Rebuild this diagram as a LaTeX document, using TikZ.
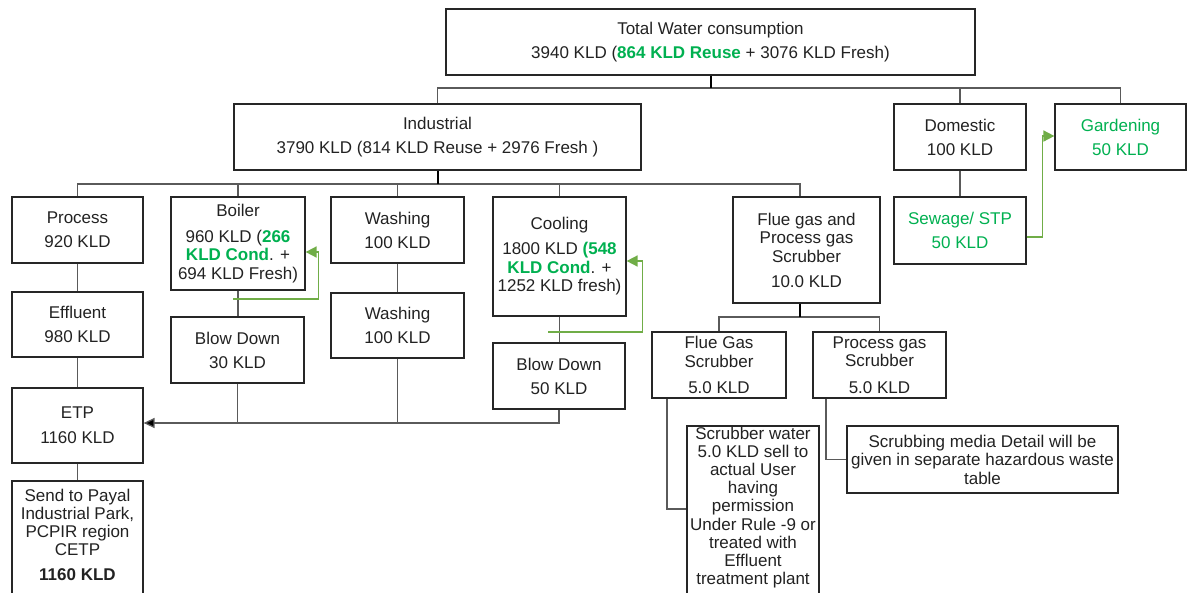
\documentclass[tikz,border=0pt]{standalone}
\usepackage{fontspec}
\setmainfont{Liberation Sans}
\usetikzlibrary{arrows.meta}
\definecolor{gtext}{HTML}{00B050}
\definecolor{gline}{HTML}{70AD47}
\definecolor{wirec}{HTML}{5A5A5A}
\definecolor{ink}{HTML}{222222}
\newcommand{\gb}[1]{\textcolor{gtext}{\bfseries #1}}
\newcommand{\gt}[1]{\textcolor{gtext}{#1}}

\begin{document}
\begin{tikzpicture}[x=1pt,y=-1pt,
  box/.style={draw=black!85, line width=1.2pt, rectangle, align=center,
    inner sep=0pt, text=ink, font=\fontsize{17}{18.5}\selectfont},
  txt/.style={align=center, inner sep=0pt, text=ink, font=\fontsize{17}{18.2}\selectfont},
  wire/.style={draw=wirec, line width=1.3pt},
  stem/.style={draw=black, line width=2pt},
  garrow/.style={draw=gline, line width=1.6pt, -{Triangle[length=11pt,width=11pt]}},
  karrow/.style={-{Triangle[length=11pt,width=10pt,fill=black]}}
]
\useasboundingbox (0,0) rectangle (1194,592);

% top level
\node[box, minimum width=529pt, minimum height=66pt] (total) at (710.5,42)
  {Total Water consumption\\[5.5pt]3940 KLD (\gb{864 KLD Reuse} + 3076 KLD Fresh)};
\node[box, minimum width=407pt, minimum height=66pt] (ind) at (437.5,137)
  {Industrial\\[5.5pt]3790 KLD (814 KLD Reuse + 2976 Fresh )};
\node[box, minimum width=132pt, minimum height=66pt] (dom) at (960,137)
  {Domestic\\[5.5pt]100 KLD};
\node[box, minimum width=131pt, minimum height=66pt] (gard) at (1120.5,137)
  {\gt{Gardening}\\[5.5pt]\gt{50 KLD}};
\node[box, minimum width=132pt, minimum height=67pt] (sew) at (960,230.5)
  {\gt{Sewage/ STP}\\[5.5pt]\gt{50 KLD}};

% industrial branches
\node[box, minimum width=131pt, minimum height=66pt] (proc) at (77.5,230)
  {Process\\[5.5pt]920 KLD};
\node[box, minimum width=131pt, minimum height=65pt] (eff) at (77.5,324.5)
  {Effluent\\[5.5pt]980 KLD};
\node[box, minimum width=131pt, minimum height=75pt] (etp) at (77.5,425.5)
  {ETP\\[6.5pt]1160 KLD};
\node[box, minimum width=131pt, minimum height=119pt] (payal) at (77.5,540.5) {};
\node[txt] (payaltxt) at (77.5,535)
  {Send to Payal\\Industrial Park,\\PCPIR region\\CETP\\[7pt]\bfseries 1160 KLD};

\node[box, minimum width=134pt, minimum height=93pt] (boiler) at (238,243.5)
  {Boiler\\[7pt]960 KLD (\gb{266}\\\gb{KLD Cond}. +\\694 KLD Fresh)};
\node[box, minimum width=133pt, minimum height=66pt] (bd30) at (237.5,350)
  {Blow Down\\[5.5pt]30 KLD};
\node[box, minimum width=133pt, minimum height=66pt] (wash1) at (397.5,230)
  {Washing\\[5.5pt]100 KLD};
\node[box, minimum width=133pt, minimum height=65pt] (wash2) at (397.5,325.5)
  {Washing\\[5.5pt]100 KLD};
\node[box, minimum width=133pt, minimum height=119pt] (cool) at (559.5,256.5)
  {Cooling\\[6.5pt]1800 KLD \gb{(548}\\\gb{KLD Cond}. +\\1252 KLD fresh)};
\node[box, minimum width=132pt, minimum height=66pt] (bd50) at (559,376)
  {Blow Down\\[5.5pt]50 KLD};

% scrubbers
\node[box, minimum width=147pt, minimum height=106pt] (flue) at (806.5,250)
  {Flue gas and\\Process gas\\Scrubber\\[6.5pt]10.0 KLD};
\node[box, minimum width=134pt, minimum height=66pt] (fgs) at (719,365)
  {Flue Gas\\Scrubber\\[8pt]5.0 KLD};
\node[box, minimum width=133pt, minimum height=66pt] (pgs) at (879.5,365)
  {Process gas\\Scrubber\\[8pt]5.0 KLD};
\node[box, minimum width=132pt, minimum height=174pt] (sw) at (753,513) {};
\node[txt] (swtxt) at (753,507.5)
  {Scrubber water\\5.0 KLD sell to\\actual User\\having\\permission\\Under Rule -9 or\\treated with\\Effluent\\treatment plant};
\node[box, minimum width=271pt, minimum height=67pt] (smd) at (982.5,459.5)
  {Scrubbing media Detail will be\\given in separate hazardous waste\\table};

% bus levels
\coordinate (topbus) at (0,88);
\coordinate (indbus) at (0,184);
\coordinate (flbus) at (0,317);
\coordinate (etpbus) at (0,423);
\coordinate (fluetop) at ([xshift=-6.5pt]flue.north);
\coordinate (fluebot) at ([xshift=-6.5pt]flue.south);
\coordinate (fgsout) at ([xshift=-52pt]fgs.south);
\coordinate (pgsout) at ([xshift=-53.5pt]pgs.south);
\coordinate (swin) at (0,509);

% tree connectors
\draw[wire] (ind.north) -- (ind.north |- topbus) -- (gard.north |- topbus) -- (gard.north);
\draw[wire] (dom.north) -- (dom.north |- topbus);
\draw[stem] (total.south) -- (total.south |- topbus);
\draw[wire] (proc.north) -- (proc.north |- indbus) -- (fluetop |- indbus) -- (fluetop);
\draw[wire] (boiler.north) -- (boiler.north |- indbus);
\draw[wire] (wash1.north) -- (wash1.north |- indbus);
\draw[wire] (cool.north) -- (cool.north |- indbus);
\draw[stem] (ind.south) -- (ind.south |- indbus);
\draw[wire] (dom.south) -- (sew.north);

\draw[wire] (proc.south) -- (eff.north);
\draw[wire] (eff.south) -- (etp.north);
\draw[wire] (etp.south) -- (payal.north);
\draw[wire] (boiler.south) -- (boiler.south |- bd30.north);
\draw[wire] (wash1.south) -- (wash1.south |- wash2.north);
\draw[wire] (cool.south) -- (cool.south |- bd50.north);

\draw[wire] (bd30.south) -- (bd30.south |- etpbus);
\draw[wire] (wash2.south) -- (wash2.south |- etpbus);
\draw[wire, karrow] (bd50.south) -- (bd50.south |- etpbus) -- (etp.east |- etpbus);

\draw[wire] (fgs.north) -- (fgs.north |- flbus) -- (pgs.north |- flbus) -- (pgs.north);
\draw[stem] (fluebot) -- (fluebot |- flbus);
\draw[wire] (fgsout) -- (fgsout |- swin) -- (sw.west |- swin);
\draw[wire] (pgsout) |- (smd.west);

% reuse loops
\coordinate (bfeed) at (233,299);
\coordinate (bret) at (0,252);
\draw[garrow] (bfeed) -- ([xshift=13pt]boiler.east |- bfeed)
  -- ([xshift=13pt]boiler.east |- bret) -- (boiler.east |- bret);
\coordinate (cfeed) at (548,332);
\coordinate (cret) at (0,261);
\draw[garrow] (cfeed) -- ([xshift=16pt]cool.east |- cfeed)
  -- ([xshift=16pt]cool.east |- cret) -- (cool.east |- cret);
\coordinate (sout) at (0,237);
\coordinate (gin) at (0,136);
\draw[garrow] (sew.east |- sout) -- ([xshift=16pt]sew.east |- sout)
  -- ([xshift=16pt]sew.east |- gin) -- (gard.west |- gin);
\end{tikzpicture}
\end{document}
